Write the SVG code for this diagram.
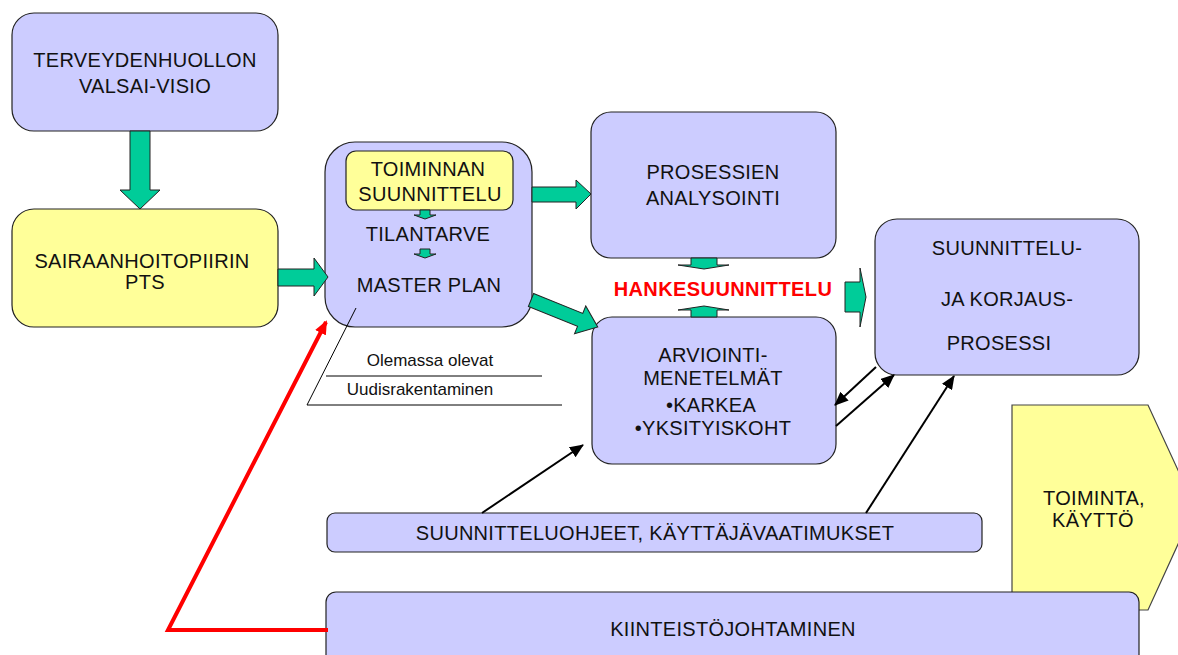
<svg xmlns="http://www.w3.org/2000/svg" width="1178" height="655" viewBox="0 0 1178 655">
<style>
.lav{fill:#ccccff;stroke:#222;stroke-width:1.2}
.yel{fill:#ffff99;stroke:#222;stroke-width:1.2}
.grn{fill:#00cc99;stroke:#222;stroke-width:1}
.t{font-family:"Liberation Sans",Arial,sans-serif;font-size:20px;fill:#111;text-anchor:middle;letter-spacing:0.3px}
.s{font-family:"Liberation Sans",Arial,sans-serif;font-size:17px;fill:#111;text-anchor:middle}
.blk{stroke:#000;stroke-width:2;fill:none;marker-end:url(#ah)}
</style>
<defs>
<marker id="ah" markerUnits="userSpaceOnUse" markerWidth="14" markerHeight="12" refX="13" refY="6" orient="auto"><path d="M0,0 L14,6 L0,12 z" fill="#000"/></marker>
<marker id="rh" markerUnits="userSpaceOnUse" markerWidth="14" markerHeight="12" refX="12" refY="6" orient="auto"><path d="M0,0 L14,6 L0,12 z" fill="#ff0000"/></marker>
</defs>
<rect width="1178" height="655" fill="#fff"/>

<g id="toiminta">
<polygon points="1012,405 1148,405 1195,507 1148,610 1012,610" fill="#ffff99" stroke="#444" stroke-width="1.2"/>
<text class="t" x="1094" y="505">TOIMINTA,</text>
<text class="t" x="1093" y="527">KÄYTTÖ</text>
</g>

<g id="visio">
<rect class="lav" x="12" y="13" width="266" height="118" rx="22"/>
<text class="t" x="145" y="67">TERVEYDENHUOLLON</text>
<text class="t" x="145" y="93">VALSAI-VISIO</text>
</g>

<g id="pts">
<rect class="yel" x="12" y="209" width="266" height="118" rx="22"/>
<text class="t" x="142" y="268">SAIRAANHOITOPIIRIN</text>
<text class="t" x="145" y="289">PTS</text>
</g>

<g id="masterplan">
<rect class="lav" x="325" y="142" width="207" height="185" rx="30"/>
<rect class="yel" x="346" y="151" width="167" height="59" rx="10"/>
<text class="t" x="428" y="176">TOIMINNAN</text>
<text class="t" x="430" y="201">SUUNNITTELU</text>
<polygon class="grn" points="420,210 430,210 430,215 436,215 425,219 414,215 420,215"/>
<text class="t" x="428" y="241">TILANTARVE</text>
<polygon class="grn" points="420,249 430,249 430,254 436,254 425,258 414,254 420,254"/>
<text class="t" x="429" y="292">MASTER PLAN</text>
</g>

<g id="prosessien">
<rect class="lav" x="591" y="112" width="245" height="146" rx="20"/>
<text class="t" x="713" y="179">PROSESSIEN</text>
<text class="t" x="713" y="205">ANALYSOINTI</text>
</g>

<g id="hanke">
<text x="723" y="296" font-family="Liberation Sans,Arial,sans-serif" font-size="20" font-weight="bold" fill="#ff0000" text-anchor="middle" letter-spacing="0.4">HANKESUUNNITTELU</text>
</g>

<g id="arviointi">
<rect class="lav" x="592" y="317" width="244" height="147" rx="20"/>
<text class="t" x="713" y="362">ARVIOINTI-</text>
<text class="t" x="713" y="385">MENETELMÄT</text>
<text class="t" x="711" y="412">•KARKEA</text>
<text class="t" x="713" y="435">•YKSITYISKOHT</text>
</g>

<g id="korjaus">
<rect class="lav" x="875" y="219" width="264" height="156" rx="22"/>
<text class="t" x="1007" y="255">SUUNNITTELU-</text>
<text class="t" x="1007" y="306">JA KORJAUS-</text>
<text class="t" x="999" y="350">PROSESSI</text>
</g>

<g id="ohjeet">
<rect class="lav" x="327" y="513" width="655" height="39" rx="8"/>
<text class="t" x="655" y="540">SUUNNITTELUOHJEET, KÄYTTÄJÄVAATIMUKSET</text>
</g>

<g id="kiinteisto">
<rect class="lav" x="326" y="592" width="813" height="80" rx="10"/>
<text class="t" x="733" y="636">KIINTEISTÖJOHTAMINEN</text>
</g>

<g id="olemassa">
<line x1="356" y1="308" x2="307" y2="405" stroke="#000" stroke-width="1"/>
<line x1="326" y1="376" x2="542" y2="376" stroke="#000" stroke-width="1"/>
<line x1="307" y1="405" x2="562" y2="405" stroke="#000" stroke-width="1"/>
<text class="s" x="430" y="366">Olemassa olevat</text>
<text class="s" x="420" y="395">Uudisrakentaminen</text>
</g>

<g id="connectors">
<polygon class="grn" points="130,131 150,131 150,190 160,190 140,209 120,190 130,190"/>
<polygon class="grn" points="278,269 314,269 314,258 328,277 314,296 314,286 278,286"/>
<polygon class="grn" points="532,187 576,187 576,180 591,194 576,209 576,202 532,202"/>
<polygon class="grn" transform="translate(531,300) rotate(22)" points="0,-7 53,-7 53,-15 72,0 53,15 53,7 0,7"/>
<polygon class="grn" points="845,282 860,282 860,268 866,297 860,327 860,312 845,312"/>
<polygon class="grn" points="691,258 717,258 717,265 729,265 704,269 678,265 691,265"/>
<polygon class="grn" points="691,317 717,317 717,310 729,310 704,306 678,310 691,310"/>
<polyline points="328,630 168,630 326,322" fill="none" stroke="#ff0000" stroke-width="4" stroke-linejoin="miter" marker-end="url(#rh)"/>
<line class="blk" x1="482" y1="513" x2="583" y2="445"/>
<line class="blk" x1="866" y1="513" x2="954" y2="376"/>
<line class="blk" x1="876" y1="367" x2="835" y2="405"/>
<line class="blk" x1="836" y1="426" x2="894" y2="375"/>
</g>
</svg>
